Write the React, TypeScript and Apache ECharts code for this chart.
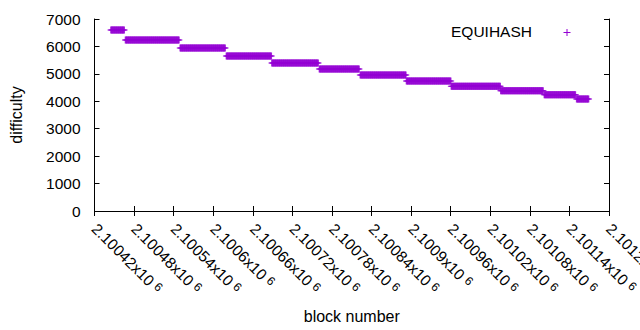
import React, { useEffect, useRef } from "react";
import * as echarts from "echarts";

// Difficulty steps: first block, last block, difficulty
const stepStartBlocks = [2100445, 2100467, 2100550, 2100620, 2100689, 2100761, 2100823, 2100893, 2100961, 2101036, 2101102, 2101151];
const stepEndBlocks = [2100465, 2100548, 2100618, 2100688, 2100759, 2100821, 2100892, 2100960, 2101035, 2101100, 2101149, 2101169];
const stepDifficulty = [6595, 6230, 5939, 5647, 5392, 5173, 4954, 4736, 4546, 4382, 4236, 4079];

const xTickLabels = ["2.10042", "2.10048", "2.10054", "2.1006", "2.10066", "2.10072", "2.10078", "2.10084", "2.1009", "2.10096", "2.10102", "2.10108", "2.10114", "2.1012"];
const yTickLabels = ["0", "1000", "2000", "3000", "4000", "5000", "6000", "7000"];

const seriesName = "EQUIHASH";
const FONT = "Liberation Sans, Arial, sans-serif";
const PURPLE = "#9400d3";

export default function App() {
  const ref = useRef<HTMLDivElement>(null);
  useEffect(() => {
    if (!ref.current) return;
    const chart = echarts.init(ref.current, undefined, { renderer: "svg" });
    const points: number[][] = [];
    stepStartBlocks.forEach((s, i) => {
      for (let b = s; b <= stepEndBlocks[i]; b++) points.push([b, stepDifficulty[i]]);
    });
    const xMin = 2100420, xMax = 2101200, xInt = 60;
    const axisLine = { show: true, lineStyle: { color: "#000", width: 1 } };
    const tick = { show: true, inside: true, length: 5, lineStyle: { color: "#000", width: 1 } };
    chart.setOption({
      animation: false,
      backgroundColor: "#fff",
      grid: { left: 94.5, right: 31, top: 19, bottom: 119, containLabel: false, outerBoundsMode: "none" },
      xAxis: [
        {
          type: "value", position: "bottom", min: xMin, max: xMax, interval: xInt,
          axisLine, axisTick: tick, splitLine: { show: false },
          name: "block number", nameLocation: "middle", nameGap: 97,
          nameTextStyle: { fontFamily: FONT, fontSize: 16, color: "#000" },
          axisLabel: {
            rotate: -45, margin: 15, showMinLabel: true, showMaxLabel: true, hideOverlap: false,
            formatter: (_v: number, i: number) => `{m|${xTickLabels[i]}x10}{s|6}`,
            rich: {
              m: { fontFamily: FONT, fontSize: 15.5, color: "#000" },
              s: { fontFamily: FONT, fontSize: 12, color: "#000", verticalAlign: "top", padding: [0, 0, 0, 4] },
            },
          },
        },
        {
          type: "value", position: "top", min: xMin, max: xMax, interval: xInt,
          axisLine, axisTick: tick, axisLabel: { show: false }, splitLine: { show: false },
        },
      ],
      yAxis: [
        {
          type: "value", position: "left", min: 0, max: 7000, interval: 1000,
          axisLine, axisTick: tick, splitLine: { show: false },
          name: "difficulty", nameLocation: "middle", nameGap: 70,
          nameTextStyle: { fontFamily: FONT, fontSize: 16, color: "#000" },
          axisLabel: {
            margin: 14, fontFamily: FONT, fontSize: 15.5, color: "#000",
            formatter: (_v: number, i: number) => yTickLabels[i],
          },
        },
        {
          type: "value", position: "right", min: 0, max: 7000, interval: 1000,
          axisLine, axisTick: tick, axisLabel: { show: false }, splitLine: { show: false },
        },
      ],
      graphic: [
        {
          type: "text", x: 532, y: 31,
          style: { text: seriesName, fontFamily: FONT, fontSize: 15.5, fill: "#000", align: "right", verticalAlign: "middle" },
        },
        { type: "line", shape: { x1: 563.5, y1: 32.5, x2: 570.5, y2: 32.5 }, style: { stroke: PURPLE, lineWidth: 1 } },
        { type: "line", shape: { x1: 567, y1: 29, x2: 567, y2: 36 }, style: { stroke: PURPLE, lineWidth: 1 } },
      ],
      series: [
        {
          name: seriesName, type: "scatter", xAxisIndex: 0, yAxisIndex: 0,
          data: points,
          symbol: "path://M2.7,0H4.3V3H7V4H4.3V7H2.7V4H0V3H2.7Z",
          symbolSize: 7,
          itemStyle: { color: PURPLE },
        },
      ],
    });
    return () => chart.dispose();
  }, []);
  return <div ref={ref} style={{ width: 640, height: 330, position: "absolute", left: 0, top: 0 }} />;
}
